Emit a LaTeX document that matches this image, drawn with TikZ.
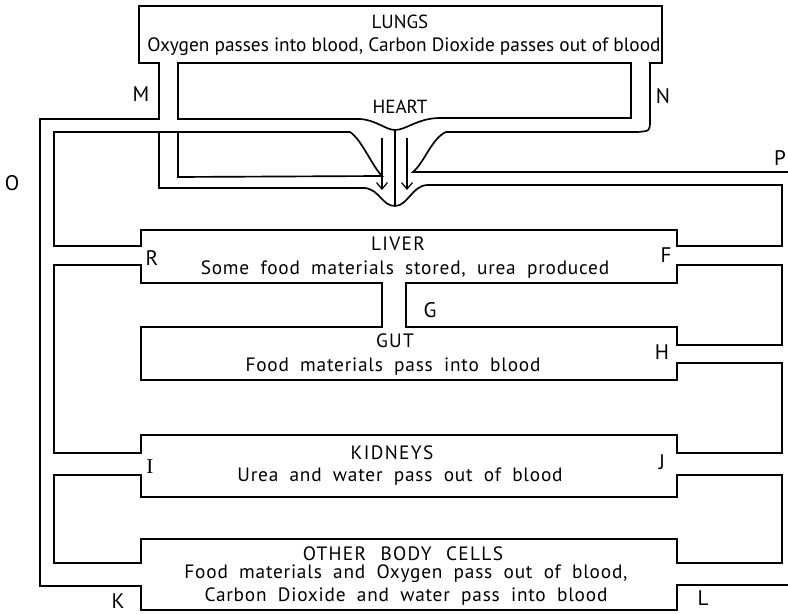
\documentclass[tikz,border=0pt]{standalone}
\usepackage{fontspec}
\setmainfont{PT Sans}
\newfontfamily\widesans{PT Sans}[LetterSpace=4,WordSpace=1.9]
\newfontfamily\widecaps{PT Sans}[LetterSpace=7,WordSpace=2.2]
\newfontfamily\barletter{Liberation Serif}
\usetikzlibrary{arrows.meta,positioning}

\begin{document}
\begin{tikzpicture}[x=0.02cm,y=-0.02cm,
  wall/.style={line width=0.95pt,line join=miter},
  flow/.style={-{Straight Barb[length=1.3mm,width=2.2mm]},line width=0.7pt},
  organ/.style={font=\fontsize{10.8}{12}\selectfont,inner sep=0pt},
  organwide/.style={font=\widecaps\fontsize{11}{12}\selectfont,inner sep=0pt},
  note/.style={font=\fontsize{11}{12}\selectfont,inner sep=0pt,align=center},
  notewide/.style={font=\widesans\fontsize{11}{13.5}\selectfont,inner sep=0pt,align=center},
  tag/.style={font=\fontsize{12}{13}\selectfont,inner sep=0pt}
]
\useasboundingbox (0,0) rectangle (788,614);

\draw[wall] (788,172) -- (413,172) .. controls (424,163) and (432,138) .. (446,132) -- (638,132)
  .. controls (650,131) .. (650,120) -- (650,63) -- (662,63) -- (662,6) -- (139,6) -- (139,63)
  -- (159,63) -- (159,119) -- (40,119) -- (40,586) -- (141,586) -- (141,610) -- (677,610)
  -- (677,585) -- (788,585);
\draw[wall] (178,63) -- (178,119) -- (360,119) .. controls (376,120) and (386,130) .. (395,130)
  .. controls (406,130) and (418,118) .. (440,118) -- (631,118) -- (631,63) -- cycle;
\draw[wall] (159,132) -- (159,188) -- (365,188) .. controls (380,190) and (382,206) .. (395,206)
  .. controls (408,206) and (412,185) .. (428,185) -- (782,185) -- (782,246) -- (677,246)
  -- (677,230) -- (141,230) -- (141,246) -- (54,246) -- (54,132) -- (350,132)
  .. controls (362,140) and (372,166) .. (382,176) -- (178,177) -- (178,132);
\draw[wall] (395,130) -- (395,206);
\draw[flow] (382,138) -- (382,190);
\draw[flow] (407,138) -- (407,190);

\draw[wall] (141,265) -- (141,283) -- (382,283) -- (382,327) -- (141,327) -- (141,380)
  -- (677,380) -- (677,363) -- (782,363) -- (782,453) -- (677,453) -- (677,435) -- (141,435)
  -- (141,453) -- (54,453) -- (54,265) -- cycle;
\draw[wall] (406,283) -- (677,283) -- (677,265) -- (782,265) -- (782,345) -- (677,345)
  -- (677,327) -- (406,327) -- cycle;
\draw[wall] (54,475) -- (141,475) -- (141,497) -- (677,497) -- (677,475) -- (782,475)
  -- (782,563) -- (677,563) -- (677,539) -- (141,539) -- (141,563) -- (54,563) -- cycle;

\node[organ] (lungs) at (400,22) {LUNGS};
\node[note] (lungsnote) at (404,47) {Oxygen passes into blood, Carbon Dioxide passes out of blood};
\node[organ] (heart) at (400,107) {HEART};
\node[organwide] (liver) at (398,244) {LIVER};
\node[notewide] (livernote) at (405,270) {Some food materials stored, urea produced};
\node[organwide] (gut) at (395,341) {GUT};
\node[notewide] (gutnote) at (393,367) {Food materials pass into blood};
\node[organwide] (kidneys) at (392,453) {KIDNEYS};
\node[notewide] (kidneysnote) at (400,477) {Urea and water pass out of blood};
\node[organwide] (cells) at (403,554) {OTHER BODY CELLS};
\node[notewide] (cellsnote) at (406,585) {Food materials and Oxygen pass out of blood,\\Carbon Dioxide and water pass into blood};

\node[tag] (m) at (141,94) {M};
\node[tag] (n) at (663,96) {N};
\node[tag] (o) at (12,183) {O};
\node[tag] (p) at (780,158) {P};
\node[tag] (r) at (152,258) {R};
\node[tag] (f) at (666,255) {F};
\node[tag] (g) at (430,310) {G};
\node[tag] (h) at (662,352) {H};
\node[tag,font=\barletter\fontsize{12}{13}\selectfont] (i) at (150,467) {I};
\node[tag] (j) at (662,462) {J};
\node[tag] (k) at (118,601) {K};
\node[tag] (l) at (703,598) {L};
\end{tikzpicture}
\end{document}
